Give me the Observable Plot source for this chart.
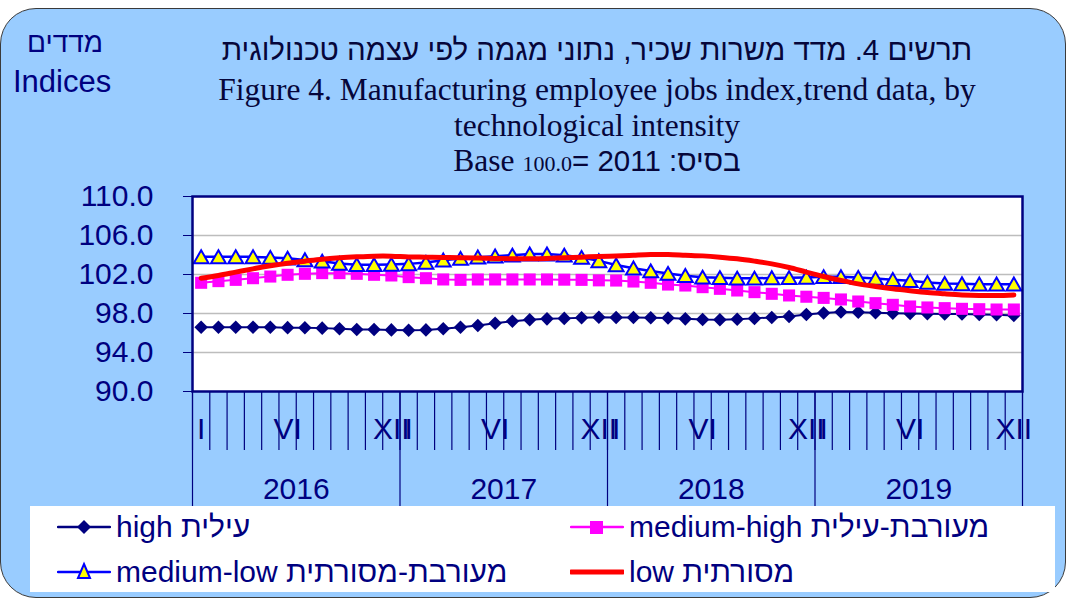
<!DOCTYPE html>
<html>
<head>
<meta charset="utf-8">
<script src="https://cdn.jsdelivr.net/npm/d3@7"></script>
<script src="https://cdn.jsdelivr.net/npm/@observablehq/plot@0.6"></script>
<style>
  html, body { margin: 0; padding: 0; }
  body { width: 1068px; height: 599px; overflow: hidden; position: relative; background: #fff;
         font-family: "Liberation Sans", Arial, "DejaVu Sans", sans-serif; }
  #bg { position: absolute; left: 0; top: 8px; width: 1066px; height: 590px; box-sizing: border-box;
        border: 1px solid #3a3a3a; border-radius: 36px; background: #99CCFF; }
  .t { position: absolute; white-space: nowrap; line-height: 1; }
  .c { left: 597px; transform: translateX(-50%); }
  .sans { font-family: "Liberation Sans", Arial, "DejaVu Sans", sans-serif; }
  .serif { font-family: "Liberation Serif", "Times New Roman", serif; }
  #chart { position: absolute; left: 0; top: 180px; }
  #legend { position: absolute; left: 30px; top: 506px; width: 1025px; height: 86px; background: #fff; }
  .li { position: absolute; display: flex; align-items: center; white-space: nowrap;
        font-size: 30px; color: #000080; line-height: 1; }
  .li svg { margin-right: 5px; }
</style>
</head>
<body>
<div id="bg"></div>
<div id="titles"></div>
<div id="chart"></div>
<div id="legend"></div>
<script>
// ---------- data ----------
const monthLabels = ["I","II","III","IV","V","VI","VII","VIII","IX","X","XI","XII"];
const shownMonths = ["I","VI","XII"];
const years = ["2016","2017","2018","2019"];
const yTicks = [90, 94, 98, 102, 106, 110];

const high = [
  96.60, 96.60, 96.60, 96.60, 96.60, 96.55, 96.53, 96.50, 96.43, 96.36, 96.36, 96.32,
  96.28, 96.32, 96.43, 96.60, 96.77, 97.01, 97.21, 97.35, 97.45, 97.50, 97.56, 97.62,
  97.60, 97.58, 97.56, 97.53, 97.45, 97.38, 97.36, 97.42, 97.50, 97.60, 97.70, 97.90,
  98.05, 98.15, 98.14, 98.07, 98.03, 98.00, 97.97, 97.96, 97.94, 97.90, 97.87, 97.80
];
const mediumHigh = [
  101.15, 101.32, 101.45, 101.62, 101.79, 101.97, 102.07, 102.14, 102.14, 102.07, 101.97, 101.90,
  101.73, 101.62, 101.49, 101.45, 101.49, 101.49, 101.49, 101.49, 101.49, 101.47, 101.45, 101.40,
  101.38, 101.28, 101.15, 100.97, 100.87, 100.70, 100.53, 100.36, 100.19, 100.02, 99.85, 99.72,
  99.60, 99.44, 99.23, 99.06, 98.89, 98.72, 98.62, 98.55, 98.48, 98.44, 98.41, 98.41
];
const mediumLow = [
  103.81, 103.81, 103.81, 103.81, 103.74, 103.66, 103.50, 103.35, 103.13, 102.99, 102.99, 103.03,
  103.09, 103.23, 103.47, 103.64, 103.78, 103.88, 103.98, 104.09, 104.09, 103.98, 103.74, 103.40,
  102.98, 102.65, 102.36, 102.10, 101.88, 101.72, 101.66, 101.61, 101.61, 101.65, 101.66, 101.70,
  101.76, 101.76, 101.69, 101.59, 101.47, 101.35, 101.18, 101.08, 101.04, 101.01, 101.01, 101.01
];
const low = [
  101.62, 101.90, 102.24, 102.58, 102.89, 103.16, 103.37, 103.57, 103.71, 103.81, 103.88, 103.88,
  103.80, 103.78, 103.75, 103.72, 103.68, 103.65, 103.62, 103.62, 103.65, 103.72, 103.78, 103.85,
  103.90, 103.98, 104.05, 104.05, 103.98, 103.91, 103.78, 103.61, 103.37, 103.09, 102.72, 102.25,
  101.80, 101.40, 101.04, 100.77, 100.53, 100.33, 100.15, 100.02, 99.91, 99.85, 99.85, 99.91
];
const seriesNames = ["high", "medium-high", "medium-low", "low"];
const legendLabels = ["high עילית", "medium-high מעורבת-עילית", "medium-low מעורבת-מסורתית", "low מסורתית"];

const titleHe = "תרשים 4. מדד משרות שכיר, נתוני מגמה לפי עצמה טכנולוגית";
const titleEn1 = "Figure 4. Manufacturing employee jobs index,trend data, by";
const titleEn2 = "technological intensity";
const baseParts = ["Base", "100.0", "= 2011 :בסיס"];
const unitHe = "מדדים";
const unitEn = "Indices";

// ---------- styles ----------
const navy = "#000080";
const titleColor = "#06063a";
const styles = {
  "high":        {stroke: navy,      strokeWidth: 2,   symbol: "diamond2", r: 6.1, fill: navy,      dotStroke: "none", dy: 0},
  "medium-high": {stroke: "#FF00FF", strokeWidth: 2,   symbol: "square",   r: 6.8, fill: "#FF00FF", dotStroke: "none", dy: 0},
  "medium-low":  {stroke: "#0000FF", strokeWidth: 2.5, symbol: "triangle", r: 5.5, fill: "#FFFF00", dotStroke: "#0000FF", dy: 2},
  "low":         {stroke: "#FF0000", strokeWidth: 5,   symbol: null}
};

const valuesBySeries = [high, mediumHigh, mediumLow, low];
const rows = [];
seriesNames.forEach((s, k) => valuesBySeries[k].forEach((v, i) => rows.push({s, i, v})));

// ---------- titles ----------
const titles = document.getElementById("titles");
titles.innerHTML = `
  <div class="t c sans" dir="rtl" style="top:35px;font-size:29.5px;color:${titleColor};">${titleHe}</div>
  <div class="t c serif" style="top:74px;font-size:31.5px;color:${titleColor};">${titleEn1}</div>
  <div class="t c serif" style="top:110px;font-size:31.5px;color:${titleColor};">${titleEn2}</div>
  <div class="t c" style="top:145px;color:${titleColor};"><span class="serif" style="font-size:31.5px;">${baseParts[0]} </span><span class="serif" style="font-size:22px;">${baseParts[1]}</span><span class="sans" style="font-size:29.5px;">${baseParts[2]}</span></div>
  <div class="t sans" dir="rtl" style="left:65px;transform:translateX(-50%);top:29px;font-size:28px;color:${navy};">${unitHe}</div>
  <div class="t sans" style="left:13px;top:66px;font-size:31px;color:${navy};">${unitEn}</div>
`;

// ---------- chart ----------
const monthBounds = d3.range(49).map(k => k - 0.5);
const yearBounds = years.map((y, k) => k * 12 - 0.5).concat([years.length * 12 - 0.5]);
const monthLabelIdx = d3.range(48).filter(i => shownMonths.includes(monthLabels[i % 12]));
const yearCenters = years.map((y, k) => k * 12 + 5.5);

const seriesMarks = [];
seriesNames.forEach(s => {
  const st = styles[s];
  const data = rows.filter(d => d.s === s);
  seriesMarks.push(Plot.line(data, {
    x: "i", y: "v", stroke: st.stroke, strokeWidth: st.strokeWidth,
    curve: s === "low" ? "catmull-rom" : "linear", strokeLinecap: "round", strokeLinejoin: "round"
  }));
  if (st.symbol) {
    seriesMarks.push(Plot.dot(data, {
      x: "i", y: "v", symbol: st.symbol, r: st.r, fill: st.fill, stroke: st.dotStroke,
      strokeWidth: 2, dy: st.dy
    }));
  }
});

const chart = Plot.plot({
  width: 1068,
  height: 330,
  marginLeft: 192,
  marginRight: 46,
  marginTop: 16,
  marginBottom: 119,
  x: {type: "linear", domain: [-0.5, 47.5], label: null},
  y: {domain: [90, 110], label: null},
  style: {background: "transparent", color: navy, fontFamily: "Liberation Sans, Arial, sans-serif", overflow: "visible"},
  marks: [
    Plot.frame({fill: "white", stroke: null}),
    Plot.gridY({ticks: [94, 98, 102, 106], stroke: "#BDBDBD", strokeOpacity: 1, strokeWidth: 1.3}),
    ...seriesMarks,
    Plot.frame({stroke: navy, strokeWidth: 2.5}),
    Plot.axisY({ticks: yTicks, tickSize: 9, tickPadding: 30, tickFormat: d3.format(".1f"),
                fontSize: 30, label: null, stroke: navy, fill: navy}),
    Plot.axisX({ticks: monthBounds, tickSize: 59, tickFormat: () => "", label: null, stroke: navy, strokeWidth: 1.2}),
    Plot.axisX({ticks: yearBounds, tickSize: 119, tickFormat: () => "", label: null, stroke: navy, strokeWidth: 1.2}),
    Plot.axisX({ticks: monthLabelIdx, tickSize: 0, tickPadding: 26, tickFormat: i => monthLabels[i % 12],
                fontSize: 30, label: null, fill: navy}),
    Plot.axisX({ticks: yearCenters, tickSize: 0, tickPadding: 86, tickFormat: c => years[Math.floor(c / 12)],
                fontSize: 30, label: null, fill: navy})
  ]
});
document.getElementById("chart").appendChild(chart);

// ---------- legend ----------
const legend = document.getElementById("legend");
const legendPos = [
  {left: 27, top: 6}, {left: 540, top: 6}, {left: 27, top: 51}, {left: 540, top: 51}
];
seriesNames.forEach((s, k) => {
  const st = styles[s];
  const item = document.createElement("div");
  item.className = "li";
  item.style.left = legendPos[k].left + "px";
  item.style.top = legendPos[k].top + "px";
  let marker = "";
  if (st.symbol === "diamond2") marker = `<path d="M27,4 L34,11 L27,18 L20,11 Z" fill="${st.fill}"/>`;
  if (st.symbol === "square") marker = `<rect x="20" y="5" width="13" height="13" fill="${st.fill}"/>`;
  if (st.symbol === "triangle") marker = `<path d="M27,3 L33,17 L21,17 Z" fill="${st.fill}" stroke="${st.dotStroke}" stroke-width="2"/>`;
  item.innerHTML = `<svg width="54" height="22" viewBox="0 0 54 22"><line x1="1" x2="53" y1="11" y2="11" stroke="${st.stroke}" stroke-width="${s === 'low' ? 5 : 2.5}" stroke-linecap="round"/>${marker}</svg><span>${legendLabels[k]}</span>`;
  legend.appendChild(item);
});
</script>
</body>
</html>
